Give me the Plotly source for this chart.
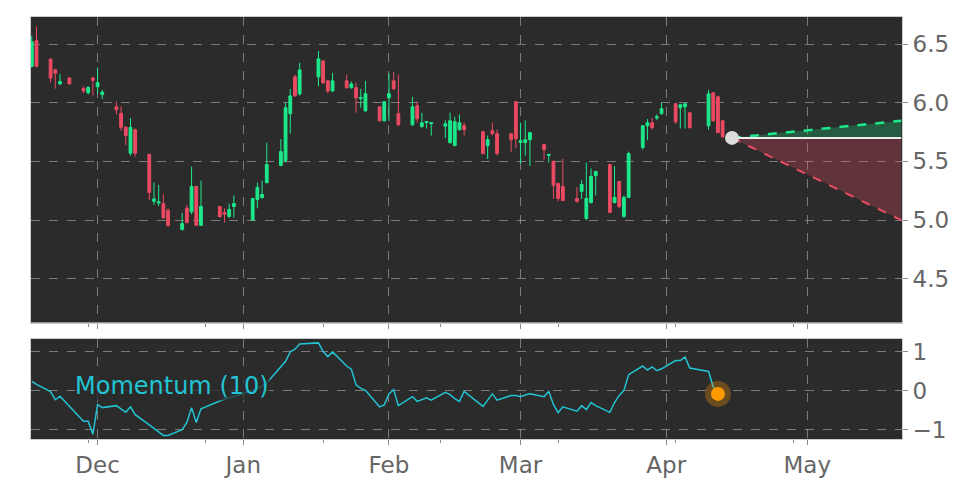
import pandas as pd
import plotly.graph_objects as go
from plotly.subplots import make_subplots

# trading days (NYSE calendar, Nov 2022 - Apr 2023)
holidays = ["2022-11-24", "2022-12-26", "2023-01-02", "2023-01-16", "2023-02-20", "2023-04-07"]
dates = pd.bdate_range("2022-11-17", "2023-04-13", freq="C", holidays=holidays)

open_ = [6.31, 6.53, 6.37, 6.28, 6.16, 6.21, 6.12, 6.085, 6.21, 6.135, 6.07,
         5.965, 5.91, 5.79, 5.57, 5.77, 5.56, 5.16, 5.145, 5.14, 5.08,
         4.92, 5.10, 5.07, 5.286, 4.955, 5.116, 5.065, 5.03, 5.116,
         5.00, 5.176, 5.193, 5.32, 5.464, 5.507, 5.906, 6.22, 6.075,
         6.22, 6.356, 6.186, 6.10, 6.186, 6.127, 6.127, 6.035, 5.931,
         5.965, 5.846, 6.042, 6.186, 5.906, 5.812, 5.974, 5.795, 5.83, 5.82,
         5.80, 5.66, 5.634, 5.77, 5.804, 5.753, 5.634, 5.762, 5.736,
         5.736, 6.008, 5.66, 5.66, 5.685, 5.643, 5.55, 5.498, 5.312, 5.286,
         5.184, 5.244, 5.014, 5.15, 5.379, 5.473, 5.15, 5.329, 5.031, 5.193,
         5.617, 5.804, 5.829, 5.87, 5.906, 5.99, 5.957, 5.965, 5.914,
         5.804, 6.084, 6.05, 5.846]
high = [6.57, 6.65, 6.38, 6.29, 6.245, 6.22, 6.14, 6.14, 6.22, 6.30, 6.11,
        6.01, 5.97, 5.80, 5.87, 5.78, 5.56, 5.32, 5.30, 5.22, 5.10,
        5.06, 5.13, 5.456, 5.29, 5.337, 5.12, 5.10, 5.14, 5.21,
        5.19, 5.32, 5.337, 5.66, 5.69, 6.00, 6.118, 6.24, 6.339,
        6.44, 6.36, 6.19, 6.254, 6.24, 6.18, 6.17, 6.118, 6.186,
        5.97, 6.01, 6.25, 6.264, 6.24, 6.05, 6.01, 5.914, 5.84, 5.83,
        5.85, 5.914, 5.88, 5.90, 5.83, 5.76, 5.72, 5.83, 5.77,
        5.74, 6.01, 5.83, 5.85, 5.75, 5.65, 5.56, 5.51, 5.32, 5.52,
        5.28, 5.34, 5.49, 5.44, 5.42, 5.48, 5.46, 5.33, 5.21, 5.583,
        5.81, 5.86, 5.87, 5.90, 5.999, 6.00, 5.99, 6.00, 5.92,
        6.11, 6.09, 6.06, 5.85]
low = [6.30, 6.30, 6.17, 6.12, 6.15, 6.16, 6.08, 6.07, 6.06, 6.075, 6.03,
       5.90, 5.76, 5.64, 5.55, 5.54, 5.17, 5.13, 5.12, 5.01, 4.94,
       4.91, 4.97, 5.05, 4.95, 4.95, 5.02, 4.98, 5.02, 5.02,
       4.995, 5.10, 5.18, 5.31, 5.46, 5.49, 5.736, 6.05, 6.06,
       6.14, 6.16, 6.08, 6.09, 6.12, 6.12, 5.914, 5.957, 5.92,
       5.84, 5.84, 5.846, 6.11, 5.80, 5.80, 5.83, 5.79, 5.78, 5.72,
       5.70, 5.65, 5.63, 5.76, 5.72, 5.56, 5.52, 5.72, 5.55,
       5.58, 5.61, 5.48, 5.55, 5.46, 5.515, 5.49, 5.18, 5.16, 5.16,
       5.15, 5.18, 5.00, 5.14, 5.21, 5.06, 5.14, 5.10, 5.02, 5.19,
       5.60, 5.68, 5.77, 5.85, 5.90, 5.82, 5.78, 5.78, 5.78,
       5.77, 5.84, 5.74, 5.70]
close = [6.52, 6.31, 6.21, 6.25, 6.18, 6.16, 6.10, 6.13, 6.19, 6.17, 6.09,
         5.94, 5.79, 5.72, 5.79, 5.57, 5.235, 5.18, 5.155, 5.02, 4.955,
         4.97, 4.98, 5.286, 4.955, 5.116, 5.03, 5.05, 5.09, 5.14,
         5.184, 5.278, 5.218, 5.473, 5.583, 5.957, 6.058, 6.058, 6.279,
         6.373, 6.169, 6.10, 6.186, 6.127, 6.16, 6.04, 6.042, 6.076,
         5.846, 6.008, 6.076, 6.118, 5.812, 5.965, 5.863, 5.829, 5.84, 5.83,
         5.82, 5.846, 5.838, 5.829, 5.77, 5.566, 5.685, 5.736, 5.566,
         5.685, 5.693, 5.676, 5.685, 5.745, 5.60, 5.56, 5.295, 5.184, 5.167,
         5.159, 5.303, 5.184, 5.371, 5.413, 5.065, 5.193, 5.116, 5.193, 5.566,
         5.804, 5.829, 5.787, 5.88, 5.948, 5.837, 5.982, 5.99, 5.787,
         6.075, 5.846, 5.744, 5.71]

momentum = [0.24, 0.16, -0.02, -0.23, -0.14, -0.39, -0.78, -0.78, -1.11, -0.35, -0.43,
            -0.38, -0.46, -0.55, -0.41, -0.61, -0.87, -0.96, -1.05, -1.14, -1.14,
            -0.99, -0.81, -0.43, -0.81, -0.46, -0.26, -0.22, -0.18, -0.14,
            0.0, 0.05, 0.12, 0.2, 0.61, 0.75, 0.99, 1.06, 1.19,
            1.22, 1.0, 0.87, 0.99, 0.63, 0.55, 0.15, 0.06, 0.01,
            -0.41, -0.36, -0.08, 0.03, -0.38, -0.15, -0.27, -0.22, -0.18, -0.24,
            -0.04, -0.1, -0.2, -0.27, -0.02, -0.40, -0.25, -0.08, -0.24,
            -0.12, -0.12, -0.15, -0.11, -0.08, -0.15, -0.02, -0.35, -0.56, -0.41,
            -0.52, -0.38, -0.48, -0.3, -0.38, -0.55, -0.3, -0.12, 0.01, 0.41,
            0.63, 0.53, 0.61, 0.51, 0.56, 0.77, 0.77, 0.86, 0.58,
            0.49, 0.1, -0.08]

# forecast cone
forecast_dates = ["2023-04-15", "2023-05-21"]
forecast_base = [5.70, 5.70]
forecast_upper = [5.70, 5.846]
forecast_lower = [5.70, 5.0]

GREEN = "#1de98b"
RED = "#ea4b62"
BG = "#2b2b2b"
GRID = "rgba(190,190,190,0.55)"

fig = make_subplots(rows=2, cols=1, shared_xaxes=True)

fig.add_trace(go.Candlestick(
    x=dates, open=open_, high=high, low=low, close=close,
    increasing=dict(line=dict(color=GREEN, width=1), fillcolor=GREEN),
    decreasing=dict(line=dict(color=RED, width=1), fillcolor=RED),
    showlegend=False, hoverinfo="skip"), row=1, col=1)

# cone fills
fig.add_trace(go.Scatter(x=forecast_dates, y=forecast_base, mode="lines",
                         line=dict(width=0), showlegend=False), row=1, col=1)
fig.add_trace(go.Scatter(x=forecast_dates, y=forecast_upper, mode="lines",
                         line=dict(color=GREEN, width=2.5, dash="dash"),
                         fill="tonexty", fillcolor="rgba(29,233,139,0.25)",
                         showlegend=False), row=1, col=1)
fig.add_trace(go.Scatter(x=forecast_dates, y=forecast_base, mode="lines",
                         line=dict(width=0), showlegend=False), row=1, col=1)
fig.add_trace(go.Scatter(x=forecast_dates, y=forecast_lower, mode="lines",
                         line=dict(color=RED, width=2, dash="dash"),
                         fill="tonexty", fillcolor="rgba(234,75,98,0.28)",
                         showlegend=False), row=1, col=1)
fig.add_trace(go.Scatter(x=forecast_dates, y=forecast_base, mode="lines",
                         line=dict(color="#eeeeee", width=2), showlegend=False), row=1, col=1)
fig.add_trace(go.Scatter(x=forecast_dates[:1], y=forecast_base[:1], mode="markers",
                         marker=dict(color="#dcdcdc", size=14), showlegend=False), row=1, col=1)

# momentum
mdates = dates[:len(momentum)]
fig.add_trace(go.Scatter(x=mdates, y=momentum, mode="lines",
                         line=dict(color="#22c3d3", width=1.5), showlegend=False), row=2, col=1)
fig.add_trace(go.Scatter(x=mdates[-1:], y=momentum[-1:], mode="markers",
                         marker=dict(color="rgba(255,153,0,0.3)", size=26), showlegend=False), row=2, col=1)
fig.add_trace(go.Scatter(x=mdates[-1:], y=momentum[-1:], mode="markers",
                         marker=dict(color="#ff9a00", size=14), showlegend=False), row=2, col=1)

fig.add_annotation(x="2022-11-26 00:00", y=0.11, xref="x2", yref="y2",
                   text="Momentum (10)", showarrow=False, xanchor="left", yanchor="middle",
                   font=dict(family="DejaVu Sans", size=24, color="#22c3d3"),
                   bgcolor="rgba(43,43,43,0.75)", borderpad=0)

xrange = ["2022-11-16 20:00", "2023-05-21 04:00"]
axis_common = dict(showline=True, linecolor="#cccccc", linewidth=1, mirror=True,
                   gridcolor=GRID, griddash="dash", gridwidth=1, zeroline=False,
                   ticks="outside", ticklen=5, tickcolor="#888888",
                   tickfont=dict(family="DejaVu Sans", size=23, color="#666666"))

fig.update_xaxes(range=xrange, dtick="M1", tickformat="%b", rangeslider_visible=False,
                 minor=dict(ticks="outside", ticklen=3, tickcolor="#888888",
                            tick0="2022-11-29", dtick=25 * 86400000, showgrid=False),
                 **axis_common)
fig.update_xaxes(showticklabels=False, row=1, col=1)
fig.update_yaxes(side="right", **axis_common)

# the page body has an 8px margin, so the figure is drawn 8px in from the corner
fig.update_layout(
    width=964, height=478,
    margin=dict(l=23, r=70, t=8, b=46),
    paper_bgcolor="white", plot_bgcolor=BG,
    showlegend=False,
    boxgap=0.15,
    xaxis=dict(domain=[0, 1]),
    yaxis=dict(domain=[0.276, 1], range=[4.127, 6.73], tickvals=[4.5, 5.0, 5.5, 6.0, 6.5],
               ticktext=["4.5", "5.0", "5.5", "6.0", "6.5"]),
    yaxis2=dict(domain=[0, 0.238], range=[-1.23, 1.33], tickvals=[-1, 0, 1]),
)

fig.write_html("out.html")
